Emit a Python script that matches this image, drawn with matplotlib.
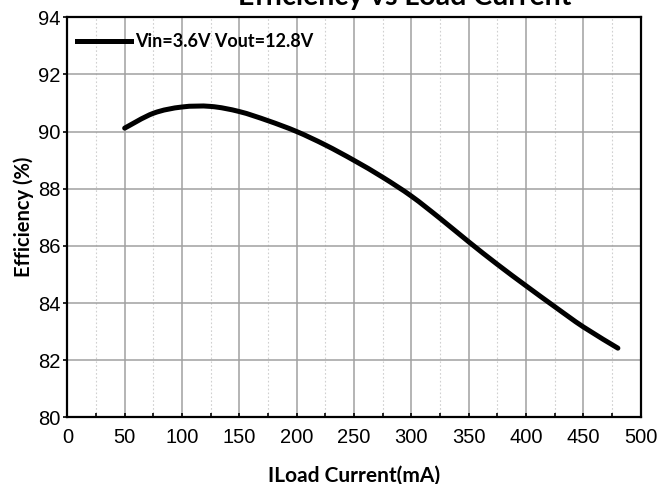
import matplotlib
matplotlib.use("Agg")
import matplotlib.pyplot as plt
from matplotlib.path import Path
from matplotlib.patches import PathPatch
from matplotlib.lines import Line2D
from matplotlib.ticker import MultipleLocator

# load current (mA) and efficiency (%)
iload = [50, 75, 100, 125, 150, 175, 200, 225, 250, 275, 300, 325, 350, 375, 400, 425, 450, 480]
efficiency = [90.12, 90.64, 90.86, 90.88, 90.70, 90.38, 90.0, 89.53, 88.99, 88.40,
              87.74, 86.96, 86.14, 85.35, 84.60, 83.87, 83.16, 82.42]
series_label = "Vin=3.6V Vout=12.8V"

bold_font = "Lato"
tick_font = "Liberation Sans"


def smooth_path(xs, ys):
    # Catmull-Rom through the read points, drawn as cubic Bezier segments
    verts = [(xs[0], ys[0])]
    codes = [Path.MOVETO]
    n = len(xs)
    for i in range(n - 1):
        x0, y0 = (xs[i - 1], ys[i - 1]) if i > 0 else (xs[i], ys[i])
        x1, y1 = xs[i], ys[i]
        x2, y2 = xs[i + 1], ys[i + 1]
        x3, y3 = (xs[i + 2], ys[i + 2]) if i + 2 < n else (x2, y2)
        c1 = (x1 + (x2 - x0) / 6, y1 + (y2 - y0) / 6)
        c2 = (x2 - (x3 - x1) / 6, y2 - (y3 - y1) / 6)
        verts += [c1, c2, (x2, y2)]
        codes += [Path.CURVE4] * 3
    return Path(verts, codes)


def make_plot():
    fig = plt.figure(figsize=(6.58, 4.84), dpi=100)
    ax = fig.add_axes([0.1023, 0.1378, 0.8716, 0.8265])

    curve = PathPatch(smooth_path(iload, efficiency), facecolor="none",
                      edgecolor="black", lw=3.6, capstyle="round", zorder=3)
    ax.add_patch(curve)

    ax.set_xlim(0, 500)
    ax.set_ylim(80, 94)
    ax.xaxis.set_major_locator(MultipleLocator(50))
    ax.xaxis.set_minor_locator(MultipleLocator(25))
    ax.yaxis.set_major_locator(MultipleLocator(2))

    ax.grid(True, which="major", color="#a0a0a0", lw=1.1, ls="-")
    ax.grid(True, which="minor", axis="x", color="#d0d0d0", lw=0.8, ls=(0, (1.5, 2)))
    ax.set_axisbelow(True)

    ax.tick_params(axis="x", which="both", direction="in", length=3, width=1.2,
                   labelsize=14.5, pad=8)
    ax.tick_params(axis="y", which="both", direction="out", length=3, width=1.2,
                   labelsize=14.5, pad=2)
    for lbl in ax.get_xticklabels() + ax.get_yticklabels():
        lbl.set_fontfamily(tick_font)
    for sp in ax.spines.values():
        sp.set_linewidth(1.6)
        sp.set_color("black")

    ax.set_xlabel("ILoad Current(mA)", fontfamily=bold_font, fontweight="bold",
                  fontsize=15, labelpad=13)
    ax.set_ylabel("Efficiency (%)", fontfamily=bold_font, fontweight="bold",
                  fontsize=14.5, labelpad=3)

    fig.text(405 / 658, 1 - 5 / 484, "Efficiency vs Load Current", ha="center",
             va="baseline", fontfamily=bold_font, fontweight="bold", fontsize=20.5)

    handle = Line2D([], [], color="black", lw=3.6)
    ax.legend([handle], [series_label], loc="upper left", frameon=False,
              handlelength=3.0, handletextpad=0.2, borderaxespad=0.15,
              bbox_to_anchor=(0.0, 0.985),
              prop={"family": bold_font, "weight": "bold", "size": 13})

    fig.savefig("out.png", dpi=100)


if __name__ == "__main__":
    make_plot()
